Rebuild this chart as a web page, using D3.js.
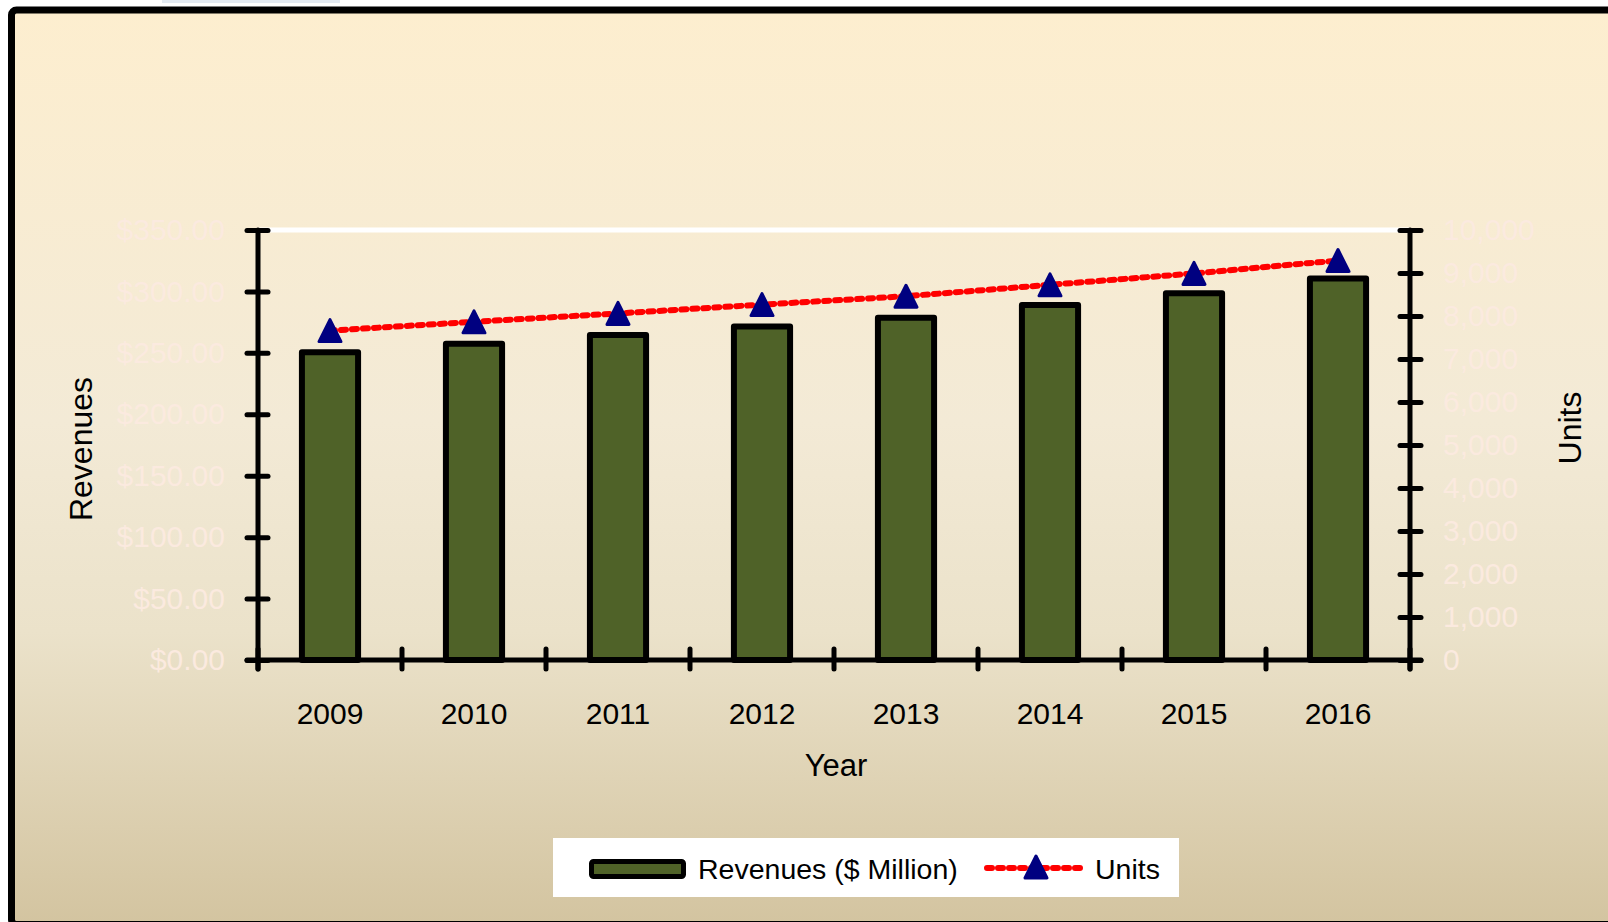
<!DOCTYPE html>
<html>
<head>
<meta charset="utf-8">
<script src="https://cdn.jsdelivr.net/npm/d3@7"></script>
<style>
  html, body { margin: 0; padding: 0; background: #fff; }
  svg { display: block; font-family: "Liberation Sans", Arial, sans-serif; }
</style>
</head>
<body>
<div class="chart"></div>
<script>
// data
const years = ["2009", "2010", "2011", "2012", "2013", "2014", "2015", "2016"];
const revenues = [250.5, 257.5, 264.5, 271.5, 278.5, 289, 298.5, 310.5];
const units = [7660, 7865, 8060, 8265, 8460, 8725, 8990, 9290];
const revenueTicks = [0, 50, 100, 150, 200, 250, 300, 350];
const unitTicks = [0, 1000, 2000, 3000, 4000, 5000, 6000, 7000, 8000, 9000, 10000];

const W = 1608, H = 922;
const plot = { left: 258, right: 1410, top: 230, bottom: 660 };

const svg = d3.select(".chart").append("svg")
  .attr("width", W)
  .attr("height", H);

// background gradient + frame
const defs = svg.append("defs");
const grad = defs.append("linearGradient")
  .attr("id", "bg")
  .attr("x1", 0).attr("y1", 0).attr("x2", 0).attr("y2", 1);
[["0%", "#fdeecf"], ["45%", "#f3ead6"], ["68%", "#ebe2ca"], ["100%", "#d3c4a0"]]
  .forEach(([o, c]) => grad.append("stop").attr("offset", o).attr("stop-color", c));

// light strip peeking at the very top
svg.append("rect")
  .attr("x", 162).attr("y", 0)
  .attr("width", 178).attr("height", 3)
  .attr("fill", "#e3eaf2");

svg.append("rect")
  .attr("x", 11.5).attr("y", 10)
  .attr("width", W + 40).attr("height", 914.5)
  .attr("rx", 5)
  .attr("fill", "url(#bg)")
  .attr("stroke", "#000")
  .attr("stroke-width", 7);

// scales
const x = d3.scaleBand(years, [plot.left, plot.right])
  .paddingInner(0.61)
  .paddingOuter(0.305);
const yL = d3.scaleLinear([0, 350], [plot.bottom, plot.top]);
const yR = d3.scaleLinear([0, 10000], [plot.bottom, plot.top]);

// white top border of the plot area
svg.append("line")
  .attr("x1", plot.left).attr("x2", plot.right)
  .attr("y1", plot.top).attr("y2", plot.top)
  .attr("stroke", "#fff")
  .attr("stroke-width", 5);

const labelColor = "#fbeadf";

// left axis
const axL = svg.append("g")
  .attr("transform", `translate(${plot.left},0)`)
  .call(d3.axisLeft(yL).tickValues(revenueTicks)
    .tickFormat(d3.format("$.2f"))
    .tickSizeInner(11).tickSizeOuter(0).tickPadding(22));
axL.select(".domain").remove();
axL.selectAll(".tick line").attr("x1", 10).attr("x2", -11)
  .attr("stroke", "#000").attr("stroke-width", 5).attr("stroke-linecap", "round");
axL.selectAll(".tick text").attr("fill", labelColor).style("font-size", "30px");

// right axis
const axR = svg.append("g")
  .attr("transform", `translate(${plot.right},0)`)
  .call(d3.axisRight(yR).tickValues(unitTicks)
    .tickFormat(d3.format(","))
    .tickSizeInner(11).tickSizeOuter(0).tickPadding(22));
axR.select(".domain").remove();
axR.selectAll(".tick line").attr("x1", -10).attr("x2", 11)
  .attr("stroke", "#000").attr("stroke-width", 5).attr("stroke-linecap", "round");
axR.selectAll(".tick text").attr("fill", labelColor).style("font-size", "30px");

// bars
svg.append("g")
  .selectAll("rect")
  .data(years)
  .join("rect")
  .attr("x", (d) => x(d))
  .attr("width", x.bandwidth())
  .attr("y", (d, i) => yL(revenues[i]))
  .attr("height", (d, i) => plot.bottom - yL(revenues[i]))
  .attr("fill", "#4f6228")
  .attr("stroke", "#000")
  .attr("stroke-width", 6)
  .attr("stroke-linejoin", "round");

// axis lines
const axisLines = svg.append("g")
  .attr("stroke", "#000")
  .attr("stroke-width", 5)
  .attr("stroke-linecap", "round");
axisLines.append("line")
  .attr("x1", plot.left).attr("x2", plot.left)
  .attr("y1", plot.top).attr("y2", plot.bottom + 9);
axisLines.append("line")
  .attr("x1", plot.right).attr("x2", plot.right)
  .attr("y1", plot.top).attr("y2", plot.bottom + 9);
axisLines.append("line")
  .attr("x1", plot.left - 11).attr("x2", plot.right + 11)
  .attr("y1", plot.bottom).attr("y2", plot.bottom);
// category boundary ticks
axisLines.selectAll(".bt")
  .data(d3.range(years.length + 1))
  .join("line")
  .attr("class", "bt")
  .attr("x1", (i) => plot.left + i * x.step())
  .attr("x2", (i) => plot.left + i * x.step())
  .attr("y1", plot.bottom - 11)
  .attr("y2", plot.bottom + 9);

// year labels
const axB = svg.append("g")
  .attr("transform", `translate(0,${plot.bottom})`)
  .call(d3.axisBottom(x).tickSize(0).tickPadding(43));
axB.select(".domain").remove();
axB.selectAll(".tick text").attr("fill", "#000").style("font-size", "30px");

// units line
const cx = (d) => x(d) + x.bandwidth() / 2;
svg.append("path")
  .datum(years)
  .attr("fill", "none")
  .attr("stroke", "#ff0000")
  .attr("stroke-width", 6)
  .attr("stroke-dasharray", "5 6")
  .attr("stroke-linecap", "round")
  .attr("d", d3.line().x(cx).y((d, i) => yR(units[i])));

const tri = "M0,-11L11,11L-11,11Z";
svg.append("g")
  .selectAll("path")
  .data(years)
  .join("path")
  .attr("transform", (d, i) => `translate(${cx(d)},${yR(units[i])})`)
  .attr("d", tri)
  .attr("fill", "#000080")
  .attr("stroke", "#000080")
  .attr("stroke-width", 3)
  .attr("stroke-linejoin", "round");

// axis titles
svg.append("text")
  .attr("x", 836).attr("y", 776)
  .attr("text-anchor", "middle")
  .style("font-size", "31px")
  .text("Year");
svg.append("text")
  .attr("transform", "translate(92,449) rotate(-90)")
  .attr("text-anchor", "middle")
  .style("font-size", "32px")
  .text("Revenues");
svg.append("text")
  .attr("transform", "translate(1581,428) rotate(-90)")
  .attr("text-anchor", "middle")
  .style("font-size", "32px")
  .text("Units");

// legend
const legend = svg.append("g").attr("transform", "translate(553,838)");
legend.append("rect")
  .attr("width", 626).attr("height", 59)
  .attr("fill", "#fff");
legend.append("rect")
  .attr("x", 38.5).attr("y", 23.5)
  .attr("width", 92).attr("height", 15)
  .attr("rx", 2)
  .attr("fill", "#4f6228")
  .attr("stroke", "#000")
  .attr("stroke-width", 5);
legend.append("text")
  .attr("x", 145).attr("y", 41)
  .style("font-size", "28.5px")
  .text("Revenues ($ Million)");
legend.append("line")
  .attr("x1", 434).attr("x2", 532)
  .attr("y1", 30).attr("y2", 30)
  .attr("stroke", "#ff0000")
  .attr("stroke-width", 6)
  .attr("stroke-dasharray", "5 6")
  .attr("stroke-linecap", "round");
legend.append("path")
  .attr("transform", "translate(483,29)")
  .attr("d", tri)
  .attr("fill", "#000080")
  .attr("stroke", "#000080")
  .attr("stroke-width", 3)
  .attr("stroke-linejoin", "round");
legend.append("text")
  .attr("x", 542).attr("y", 41)
  .style("font-size", "28.5px")
  .text("Units");
</script>
</body>
</html>
